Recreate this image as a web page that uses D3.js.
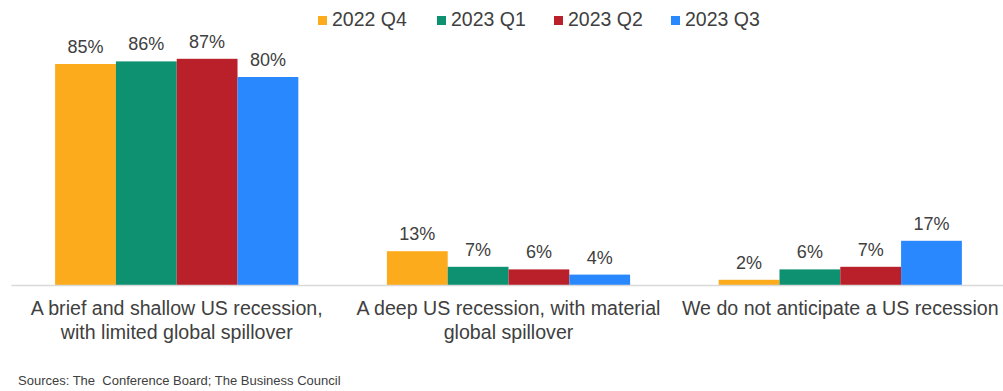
<!DOCTYPE html>
<html>
<head>
<meta charset="utf-8">
<script src="https://cdn.jsdelivr.net/npm/d3@7"></script>
<style>
  html, body { margin: 0; padding: 0; background: #fff; }
  svg { display: block; font-family: "Liberation Sans", Arial, sans-serif; }
</style>
</head>
<body>
<svg id="chart" width="1003" height="391"></svg>
<script>
// Survey outcome categories (each entry split into its display lines)
const categories = [
  ["A brief and shallow US recession,", "with limited global spillover"],
  ["A deep US recession, with material", "global spillover"],
  ["We do not anticipate a US recession"]
];
const seriesNames = ["2022 Q4", "2023 Q1", "2023 Q2", "2023 Q3"];
const seriesColors = ["#FBAB1B", "#0E9170", "#BA202A", "#2A88FF"];
// Share of respondents (%) per category, one array per quarter
const q4_2022 = [85, 13, 2];
const q1_2023 = [86, 7, 6];
const q2_2023 = [87, 6, 7];
const q3_2023 = [80, 4, 17];
const seriesValues = [q4_2022, q1_2023, q2_2023, q3_2023];
const sourceNote = "Sources: The  Conference Board; The Business Council";

const svg = d3.select("#chart");
const W = 1003, H = 391;
const margin = { left: 11, right: -3, top: 25, bottom: 106 };
const baseY = H - margin.bottom;

const x0 = d3.scaleBand()
  .domain(categories.map((c, i) => i))
  .range([margin.left, W - margin.right])
  .paddingInner(0.267)
  .paddingOuter(0.133);

const x1 = d3.scaleBand()
  .domain(seriesNames.map((s, i) => i))
  .range([0, x0.bandwidth()])
  .padding(0);

const y = d3.scaleLinear().domain([0, 100]).range([baseY, margin.top]);

// Bars and value labels
const groups = svg.append("g").selectAll("g")
  .data(categories.map((c, ci) => ci))
  .join("g")
  .attr("transform", ci => `translate(${x0(ci)},0)`);

groups.selectAll("rect")
  .data(ci => seriesValues.map((vals, si) => ({ si, v: vals[ci] })))
  .join("rect")
  .attr("x", d => x1(d.si))
  .attr("y", d => y(d.v))
  .attr("width", x1.bandwidth())
  .attr("height", d => baseY - y(d.v))
  .attr("fill", d => seriesColors[d.si]);

groups.selectAll("text.val")
  .data(ci => seriesValues.map((vals, si) => ({ si, v: vals[ci] })))
  .join("text")
  .attr("class", "val")
  .attr("x", d => x1(d.si) + x1.bandwidth() / 2)
  .attr("y", d => y(d.v) - 11)
  .attr("text-anchor", "middle")
  .attr("font-size", 18)
  .attr("fill", "#404040")
  .text(d => d.v + "%");

// Category axis
const axis = d3.axisBottom(x0).tickSize(0).tickFormat("");
const axisG = svg.append("g")
  .attr("transform", `translate(0,${baseY})`)
  .call(axis);
axisG.select(".domain").attr("stroke", "#d9d9d9").attr("stroke-width", 1.5);

axisG.selectAll(".tick").each(function (ci) {
  const t = d3.select(this).append("text")
    .attr("text-anchor", "middle")
    .attr("fill", "#404040")
    .attr("font-size", 19.6);
  categories[ci].forEach((line, li) => {
    t.append("tspan")
      .attr("x", 0)
      .attr("y", 30 + li * 24)
      .text(line);
  });
});

// Legend
const legendX = [318, 437, 554, 671];
const legend = svg.append("g").selectAll("g")
  .data(seriesNames)
  .join("g")
  .attr("transform", (d, i) => `translate(${legendX[i]},16)`);
legend.append("rect")
  .attr("width", 9).attr("height", 9)
  .attr("fill", (d, i) => seriesColors[i]);
legend.append("text")
  .attr("x", 14).attr("y", 10)
  .attr("font-size", 19.5)
  .attr("fill", "#404040")
  .text(d => d);

// Source note
svg.append("text")
  .attr("x", 18).attr("y", 385)
  .attr("font-size", 13)
  .attr("fill", "#404040")
  .style("white-space", "pre")
  .text(sourceNote);
</script>
</body>
</html>
